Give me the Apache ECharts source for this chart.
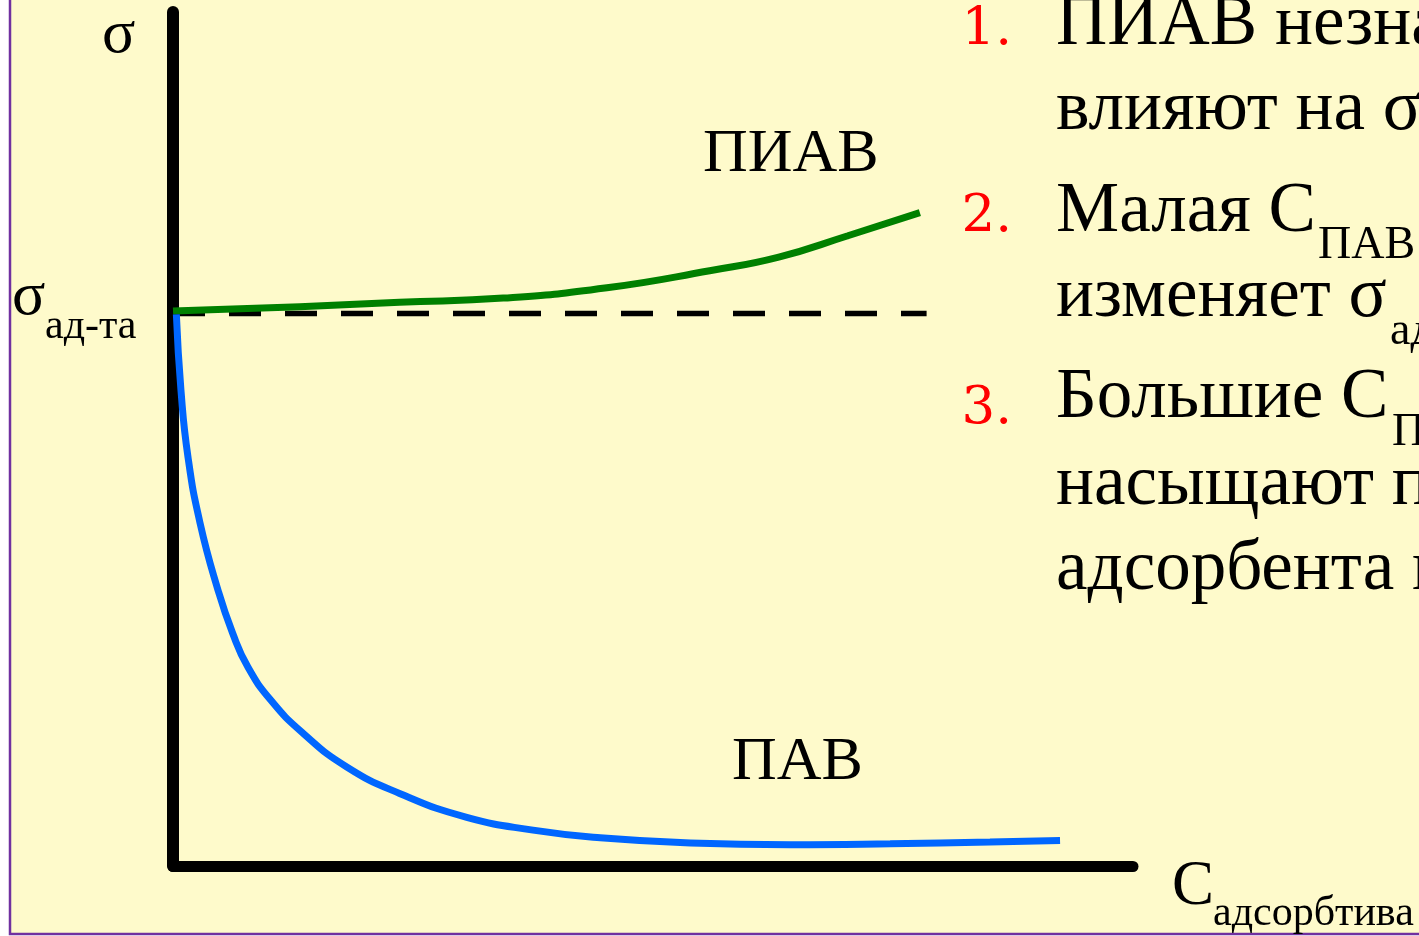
<!DOCTYPE html>
<html>
<head>
<meta charset="utf-8">
<script src="https://cdn.jsdelivr.net/npm/echarts@6/dist/echarts.min.js"></script>
<style>
html,body{margin:0;padding:0;background:#ffffff;}
#chart{width:1419px;height:936px;}
</style>
</head>
<body>
<div id="chart"></div>
<script>
// Sigma of the pure adsorbent (dashed reference level)
const sigmaAdsorbent = 64.7;
const dashedX = [0, 78.5];

// ПИАВ curve (surface-inactive substances)
const piavX = [0, 13.2, 23.6, 34.4, 45.2, 55.9, 63.1, 70.3, 77.8];
const piavY = [65.0, 65.5, 66.0, 66.5, 67.7, 69.7, 71.3, 73.8, 76.5];

// ПАВ curve (surface-active substances)
const pavX = [0.35, 0.83, 1.56, 2.81, 4.69, 6.2, 7.8, 10.2, 13.5, 18.1, 23.6, 30.6, 37.5, 44.5, 53.9, 64.3, 74.7, 85.1, 92.4];
const pavY = [64.6, 55.7, 47.9, 40.2, 32.3, 27.3, 23.3, 19.4, 15.6, 11.6, 8.5, 5.7, 4.2, 3.3, 2.7, 2.5, 2.6, 2.8, 3.0];

// Texts
const yAxisName = 'σ';
const sigmaLabel = 'σ';
const sigmaSub = 'ад-та';
const xAxisName = 'С';
const xAxisSub = 'адсорбтива';
const piavLabel = 'ПИАВ';
const pavLabel = 'ПАВ';
const listNumbers = ['1.', '2.', '3.'];
const listLines = [
  'ПИАВ незначительно',
  'влияют на σ',
  'Малая С',
  'изменяет σ',
  'Большие С',
  'насыщают поверхность',
  'адсорбента и'
];
const listSubs = ['ПАВ', 'ад-та', 'ПАВ'];

const zip = (xs, ys) => xs.map((x, i) => [x, ys[i]]);

const FONT = '"Liberation Serif", "Times New Roman", serif';
const NUM_FONT = '"DejaVu Serif", serif';
function txt(str, x, baseline, size, color, align, family, k) {
  const kk = k || 0.275;
  return {
    type: 'text',
    silent: true,
    z: 10,
    style: {
      text: str,
      x: x,
      y: baseline - kk * size,
      font: size + 'px ' + (family || FONT),
      fill: color || '#000',
      align: align || 'left',
      textAlign: align || 'left',
      verticalAlign: 'middle',
      textVerticalAlign: 'middle'
    }
  };
}

const graphics = [
  {
    type: 'rect', silent: true, z: -10,
    shape: {x: 10, y: -10, width: 1440, height: 944},
    style: {fill: '#FEFACB', stroke: '#7030A0', lineWidth: 2.5}
  },
  txt(yAxisName, 102, 53, 62),
  txt(sigmaLabel, 12, 315, 62),
  txt(sigmaSub, 45, 339, 42),
  txt(piavLabel, 703, 172, 62),
  txt(pavLabel, 732, 780, 62),
  txt(xAxisName, 1172, 905, 63),
  txt(xAxisSub, 1213, 926, 42),
  txt(listNumbers[0], 1012, 45, 53, '#FF0000', 'right', NUM_FONT, 0.28),
  txt(listNumbers[1], 1012, 232, 53, '#FF0000', 'right', NUM_FONT, 0.28),
  txt(listNumbers[2], 1012, 424, 53, '#FF0000', 'right', NUM_FONT, 0.28),
  txt(listLines[0], 1056, 45, 71),
  txt(listLines[1], 1056, 130, 71),
  txt(listLines[2], 1056, 232, 71),
  txt(listSubs[0], 1318, 259, 46),
  txt(listLines[3], 1056, 317, 71),
  txt(listSubs[1], 1390, 345, 46),
  txt(listLines[4], 1056, 418, 71),
  txt(listSubs[2], 1392, 446, 46),
  txt(listLines[5], 1056, 505, 71),
  txt(listLines[6], 1056, 590, 71)
];

const chart = echarts.init(document.getElementById('chart'), null, {renderer: 'canvas'});
chart.setOption({
  backgroundColor: '#ffffff',
  animation: false,
  grid: {left: 173, right: 286, top: 12, bottom: 70, containLabel: false},
  xAxis: {
    type: 'value', min: 0, max: 100,
    axisLine: {show: true, onZero: false, lineStyle: {color: '#000', width: 11}},
    axisTick: {show: false}, axisLabel: {show: false}, splitLine: {show: false}
  },
  yAxis: {
    type: 'value', min: 0, max: 100,
    axisLine: {show: true, onZero: false, lineStyle: {color: '#000', width: 12}},
    axisTick: {show: false}, axisLabel: {show: false}, splitLine: {show: false}
  },
  graphic: graphics,
  series: [
    {
      type: 'line', symbol: 'none', silent: true, z: 2,
      data: dashedX.map(x => [x, sigmaAdsorbent]),
      lineStyle: {color: '#000', width: 5.5, type: [32, 24]}
    },
    {
      type: 'line', symbol: 'none', silent: true, z: 3,
      smooth: 0.5,
      data: zip(piavX, piavY),
      lineStyle: {color: '#008000', width: 7}
    },
    {
      type: 'line', symbol: 'none', silent: true, z: 4,
      smooth: 0.5,
      data: zip(pavX, pavY),
      lineStyle: {color: '#0066FF', width: 7}
    }
  ]
});
</script>
</body>
</html>
